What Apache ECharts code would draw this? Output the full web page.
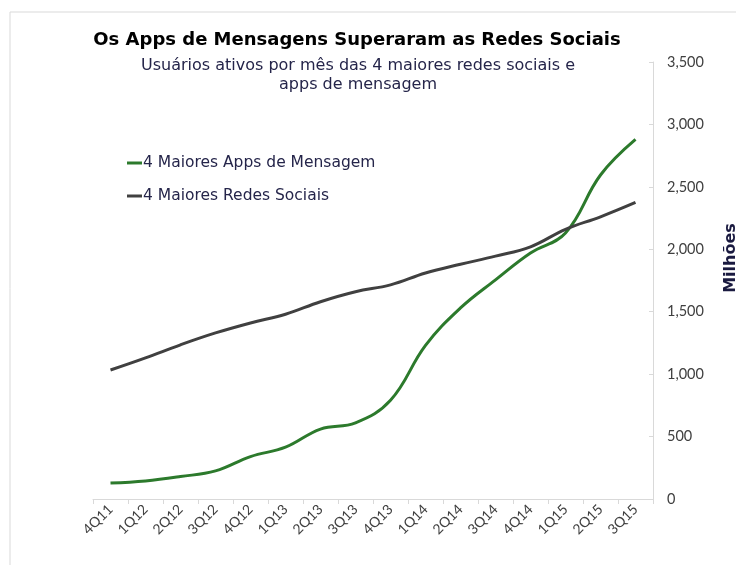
<!DOCTYPE html>
<html>
<head>
	<meta charset="utf-8">
	<title>Apps de Mensagens vs Redes Sociais</title>
	<script src="https://cdn.jsdelivr.net/npm/echarts@6/dist/echarts.min.js"></script>
	<style>
		html, body { margin: 0; padding: 0; background: #fff; }
		#main { width: 736px; height: 565px; }
	</style>
</head>
<body>
	<div id="main"></div>
	<script>
		// trimestres
		var quarters = ['4Q11', '1Q12', '2Q12', '3Q12', '4Q12', '1Q13', '2Q13', '3Q13',
			'4Q13', '1Q14', '2Q14', '3Q14', '4Q14', '1Q15', '2Q15', '3Q15'];
		// usuarios ativos (milhoes)
		var appsMensagem = [128, 145, 180, 225, 340, 415, 560, 610, 790, 1230, 1530, 1755, 1970, 2130, 2595, 2880];
		var redesSociais = [1033, 1130, 1235, 1330, 1410, 1480, 1580, 1660, 1715, 1810, 1880, 1945, 2020, 2160, 2260, 2375];
		var yTicks = [0, 500, 1000, 1500, 2000, 2500, 3000, 3500];

		var myChart = echarts.init(document.getElementById('main'));
		var textNavy = '#25254a';

		myChart.setOption({
			backgroundColor: '#fff',
			animation: false,
			graphic: [
				// moldura
				{ type: 'line', shape: { x1: 10, y1: 12, x2: 736, y2: 12 }, style: { stroke: '#d9d9d9', lineWidth: 1 } },
				{ type: 'line', shape: { x1: 10, y1: 12, x2: 10, y2: 565 }, style: { stroke: '#d9d9d9', lineWidth: 1 } },
				{
					type: 'text', x: 357, y: 40,
					style: {
						text: 'Os Apps de Mensagens Superaram as Redes Sociais',
						font: 'bold 18px "DejaVu Sans"', fill: '#000',
						align: 'center', verticalAlign: 'middle'
					}
				},
				{
					type: 'text', x: 358, y: 75,
					style: {
						text: 'Usuários ativos por mês das 4 maiores redes sociais e\napps de mensagem',
						font: '16px "DejaVu Sans"', fill: textNavy, lineHeight: 19,
						align: 'center', verticalAlign: 'middle'
					}
				},
				{
					type: 'text', x: 731, y: 258, rotation: Math.PI / 2,
					style: {
						text: 'Milhões', font: 'bold 16px "DejaVu Sans"', fill: '#1a1a40',
						align: 'center', verticalAlign: 'middle'
					}
				}
			],
			legend: {
				orient: 'vertical',
				left: 122,
				top: 150,
				itemGap: 17,
				itemWidth: 15,
				itemHeight: 3,
				icon: 'rect',
				textStyle: {
					fontFamily: 'DejaVu Sans', fontSize: 15.5, color: textNavy,
					padding: [0, 0, 0, -4]
				},
				data: ['4 Maiores Apps de Mensagem', '4 Maiores Redes Sociais']
			},
			grid: { left: 93, right: 83, top: 62, bottom: 66 },
			xAxis: {
				type: 'category',
				data: quarters,
				boundaryGap: true,
				axisLine: { lineStyle: { color: '#d9d9d9' } },
				axisTick: { show: true, length: 5, lineStyle: { color: '#d9d9d9' } },
				axisLabel: {
					rotate: 45, interval: 0, margin: 8,
					fontFamily: 'Lato', fontSize: 14, color: '#404040'
				},
				splitLine: { show: false }
			},
			yAxis: {
				type: 'value',
				position: 'right',
				min: yTicks[0],
				max: yTicks[yTicks.length - 1],
				interval: 500,
				axisLine: { show: true, lineStyle: { color: '#d9d9d9' } },
				axisTick: { show: true, inside: true, length: 4, lineStyle: { color: '#d9d9d9' } },
				axisLabel: {
					margin: 14, fontFamily: 'Lato', fontSize: 14.5, color: '#404040',
					formatter: function (v) { return v.toLocaleString('en-US'); }
				},
				splitLine: { show: false }
			},
			series: [
				{
					name: '4 Maiores Apps de Mensagem',
					type: 'line',
					smooth: 0.4,
					symbol: 'none',
					data: appsMensagem,
					lineStyle: { width: 3, color: '#2c7a2c' },
					itemStyle: { color: '#2c7a2c' }
				},
				{
					name: '4 Maiores Redes Sociais',
					type: 'line',
					smooth: 0.4,
					symbol: 'none',
					data: redesSociais,
					lineStyle: { width: 3, color: '#404040' },
					itemStyle: { color: '#404040' }
				}
			]
		});
	</script>
</body>
</html>
